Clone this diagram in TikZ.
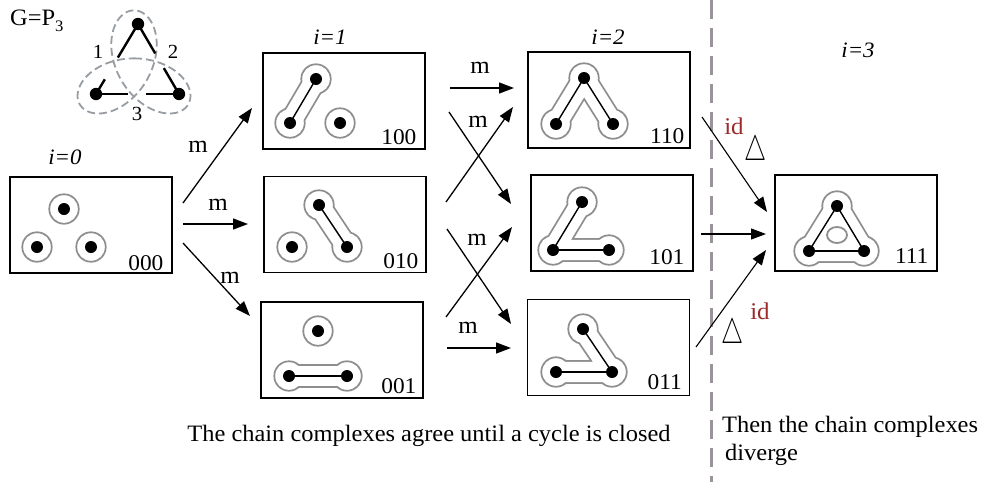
\documentclass[tikz,border=0pt]{standalone}
\usepackage{fontspec}
\usepackage{graphicx}
\setmainfont[FakeStretch=1.04]{Liberation Serif}
\usetikzlibrary{arrows.meta,calc}
\definecolor{blobgray}{HTML}{8E8E8E}
\definecolor{divgray}{HTML}{9A949A}
\definecolor{knotgray}{HTML}{979DA2}
\definecolor{idred}{HTML}{9B2B2B}
\newcommand\thindelta{\scalebox{1.0}[1.42]{$\bigtriangleup$}}
\begin{document}
\begin{tikzpicture}[x=1pt,y=-1pt,
  font=\fontsize{23.5}{28}\selectfont,
  box/.style={draw, line width=1.2pt, minimum width=162pt, minimum height=96pt, inner sep=0pt},
  arr/.style={line width=1.3pt, -{Triangle[length=15pt,width=11pt]}},
  arrc/.style={line width=1.1pt, -{Triangle[length=15pt,width=11pt]}},
  numlab/.style={inner sep=0pt, anchor=base east, font=\fontsize{22.5}{26}\selectfont},
  ilab/.style={inner sep=0pt, font=\fontsize{22}{26}\selectfont\itshape},
  mlab/.style={inner sep=0pt, font=\fontsize{24}{28}\selectfont},
  idlab/.style={inner sep=0pt, text=idred, font=\fontsize{24}{28}\selectfont},
  dlab/.style={inner sep=0pt, font=\fontsize{40}{44}\selectfont},
  hullo/.style={draw=blobgray, line width=23.8pt, line cap=round, line join=round},
  hulli/.style={draw=white, line width=20.2pt, line cap=round, line join=round},
  edge/.style={line width=1.4pt},
  hedge/.style={line width=1.9pt},
  kedge/.style={line width=2.4pt},
  knot/.style={draw=knotgray, line width=1.8pt, dash pattern=on 8pt off 4pt},
  divider/.style={draw=divgray, line width=3pt, dash pattern=on 19pt off 9pt}
]
\useasboundingbox (0,0) rectangle (990,482);

% ---------- top-left graph G = P3 ----------
\node[inner sep=0pt, anchor=base west] (gtitle) at (10,25) {G=P\raisebox{-6pt}{\fontsize{16}{16}\selectfont 3}};
\draw[knot] plot[domain=0:360, samples=181, variable=\t]
  ({134+24*(sin(\t)+1.61*sin(2*\t))}, {73+24*(cos(\t)-1.61*cos(2*\t))});
\coordinate (kt) at (138,24);
\coordinate (kl) at (96,94);
\coordinate (kr) at (179,94);
\draw[kedge] (kt) -- ($(kt)!0.48!(kl)$);
\draw[kedge] ($(kt)!0.79!(kl)$) -- (kl);
\draw[kedge] (kt) -- ($(kt)!0.42!(kr)$);
\draw[kedge] ($(kt)!0.63!(kr)$) -- (kr);
\draw[kedge] (kl) -- ($(kl)!0.39!(kr)$);
\draw[kedge] ($(kl)!0.60!(kr)$) -- (kr);
\foreach \v in {kt,kl,kr} \fill (\v) circle (6.2pt);
\node[inner sep=0pt, font=\fontsize{20}{24}\selectfont] (e1) at (98,52) {1};
\node[inner sep=0pt, font=\fontsize{20}{24}\selectfont] (e2) at (173,52) {2};
\node[inner sep=0pt, font=\fontsize{20}{24}\selectfont] (e3) at (137,114) {3};

% ---------- boxes ----------
\node[box] (b000) at (91,225) {};
\node[box] (b100) at (344,101) {};
\node[box] (b010) at (345,224.5) {};
\node[box] (b001) at (342,350) {};
\node[box] (b110) at (609,100) {};
\node[box] (b101) at (612,223) {};
\node[box] (b011) at (608.5,347.5) {};
\node[box] (b111) at (856,223) {};

\node[numlab] (l000) at ($(b000.south east)+(-9,-3)$) {000};
\node[numlab] (l100) at ($(b100.south east)+(-9,-5)$) {100};
\node[numlab] (l010) at ($(b010.south east)+(-8,-5)$) {010};
\node[numlab] (l001) at ($(b001.south east)+(-7,-5)$) {001};
\node[numlab] (l110) at ($(b110.south east)+(-6,-5)$) {110};
\node[numlab] (l101) at ($(b101.south east)+(-9,-7)$) {101};
\node[numlab] (l011) at ($(b011.south east)+(-8,-7)$) {011};
\node[numlab] (l111) at ($(b111.south east)+(-9,-8)$) {111};

\node[ilab] (i0) at (65,157) {i=0};
\node[ilab] (i1) at (330,37) {i=1};
\node[ilab] (i2) at (608,37) {i=2};
\node[ilab] (i3) at (858,50) {i=3};

% ---------- vertices ----------
\coordinate (u0a) at (64,209); \coordinate (u0b) at (37,247); \coordinate (u0c) at (91,247);
\coordinate (u1a) at (316,79); \coordinate (u1b) at (290,123); \coordinate (u1c) at (340,123);
\coordinate (u2a) at (319,205); \coordinate (u2b) at (347,247); \coordinate (u2c) at (292,247);
\coordinate (u3a) at (318,331); \coordinate (u3b) at (289,376); \coordinate (u3c) at (347,376);
\coordinate (u4a) at (584,78); \coordinate (u4b) at (556,124); \coordinate (u4c) at (613,124);
\coordinate (u5a) at (582,202); \coordinate (u5b) at (553,250); \coordinate (u5c) at (609,250);
\coordinate (u6a) at (583,329); \coordinate (u6b) at (556,372); \coordinate (u6c) at (612,372);
\coordinate (u7a) at (837,206); \coordinate (u7b) at (809,251); \coordinate (u7c) at (864,251);

% gray outer pass
\foreach \v in {u0a,u0b,u0c,u1a,u1b,u1c,u2a,u2b,u2c,u3a,u3b,u3c,u4a,u4b,u4c,u5a,u5b,u5c,u6a,u6b,u6c,u7a,u7b,u7c}
  \fill[blobgray] (\v) circle (15.6pt);
\draw[hullo] (u1a) -- (u1b);
\draw[hullo] (u2a) -- (u2b);
\draw[hullo] (u3b) -- (u3c);
\draw[hullo] (u4b) -- (u4a) -- (u4c);
\draw[hullo] (u5a) -- (u5b) -- (u5c);
\draw[hullo] (u6a) -- (u6c) -- (u6b);
\draw[hullo] (u7a) -- (u7b) -- (u7c) -- cycle;
\fill[blobgray] (u7a) -- (u7b) -- (u7c) -- cycle;
% white inner pass
\foreach \v in {u0a,u0b,u0c,u1a,u1b,u1c,u2a,u2b,u2c,u3a,u3b,u3c,u4a,u4b,u4c,u5a,u5b,u5c,u6a,u6b,u6c,u7a,u7b,u7c}
  \fill[white] (\v) circle (13.8pt);
\draw[hulli] (u1a) -- (u1b);
\draw[hulli] (u2a) -- (u2b);
\draw[hulli] (u3b) -- (u3c);
\draw[hulli] (u4b) -- (u4a) -- (u4c);
\draw[hulli] (u5a) -- (u5b) -- (u5c);
\draw[hulli] (u6a) -- (u6c) -- (u6b);
\draw[hulli] (u7a) -- (u7b) -- (u7c) -- cycle;
\fill[white] (u7a) -- (u7b) -- (u7c) -- cycle;
\draw[blobgray, line width=1.8pt] (837,235) ellipse (10pt and 8pt);

% black edges
\draw[edge] (u1a) -- (u1b);
\draw[edge] (u2a) -- (u2b);
\draw[hedge] (u3b) -- (u3c);
\draw[edge] (u4b) -- (u4a) -- (u4c);
\draw[edge] (u5a) -- (u5b);
\draw[hedge] (u5b) -- (u5c);
\draw[edge] (u6a) -- (u6c);
\draw[hedge] (u6b) -- (u6c);
\draw[edge] (u7a) -- (u7b);
\draw[edge] (u7a) -- (u7c);
\draw[hedge] (u7b) -- (u7c);
\foreach \v in {u0a,u0b,u0c,u1a,u1b,u1c,u2a,u2b,u2c,u3a,u3b,u3c,u4a,u4b,u4c,u5a,u5b,u5c,u6a,u6b,u6c,u7a,u7b,u7c}
  \fill (\v) circle (6pt);

% ---------- divider ----------
\coordinate (dtop) at (711,0);
\coordinate (dbot) at (711,482);
\draw[divider] (dtop) -- (dbot);

% ---------- arrows ----------
\coordinate (a1s) at (183,203); \coordinate (a1e) at (252,108);
\coordinate (a2s) at (183,224); \coordinate (a2e) at (248,224);
\coordinate (a3s) at (183,243); \coordinate (a3e) at (250,316);
\coordinate (b1s) at (450,88);  \coordinate (b1e) at (514,88);
\coordinate (b2s) at (449,112); \coordinate (b2e) at (511,204);
\coordinate (b3s) at (446,202); \coordinate (b3e) at (513,107);
\coordinate (b4s) at (447,229); \coordinate (b4e) at (511,324);
\coordinate (b5s) at (446,317); \coordinate (b5e) at (512,227);
\coordinate (b6s) at (447,348); \coordinate (b6e) at (511,348);
\coordinate (c1s) at (702,117); \coordinate (c1e) at (767,212);
\coordinate (c2s) at (701,234); \coordinate (c2e) at (766,234);
\coordinate (c3s) at (696,347); \coordinate (c3e) at (766,250);

\draw[arr] (a1s) -- (a1e);
\draw[arr] (a2s) -- (a2e);
\draw[arr] (a3s) -- (a3e);
\draw[arr] (b1s) -- (b1e);
\draw[arr] (b2s) -- (b2e);
\draw[arr] (b3s) -- (b3e);
\draw[arr] (b4s) -- (b4e);
\draw[arr] (b5s) -- (b5e);
\draw[arr] (b6s) -- (b6e);
\draw[arrc] (c1s) -- (c1e);
\draw[arrc] (c2s) -- (c2e);
\draw[arrc] (c3s) -- (c3e);

\node[mlab] (m1) at (198,147) {m};
\node[mlab] (m2) at (218,205) {m};
\node[mlab] (m3) at (230,278) {m};
\node[mlab] (m4) at (480,68) {m};
\node[mlab] (m5) at (478,122) {m};
\node[mlab] (m6) at (477,240) {m};
\node[mlab] (m7) at (468,328) {m};

\node[idlab] (id1) at (734,126) {id};
\node[idlab] (id2) at (760,311) {id};
\node[dlab] (d1) at (756,152) {\thindelta};
\node[dlab] (d2) at (733,335) {\thindelta};

% ---------- captions ----------
\node[inner sep=0pt, anchor=base] (cap1) at (429,441) {The chain complexes agree until a cycle is closed};
\node[inner sep=0pt, anchor=base west] (cap2) at (722,432) {Then the chain complexes};
\node[inner sep=0pt, anchor=base west] (cap3) at (725,460) {diverge};
\end{tikzpicture}
\end{document}
